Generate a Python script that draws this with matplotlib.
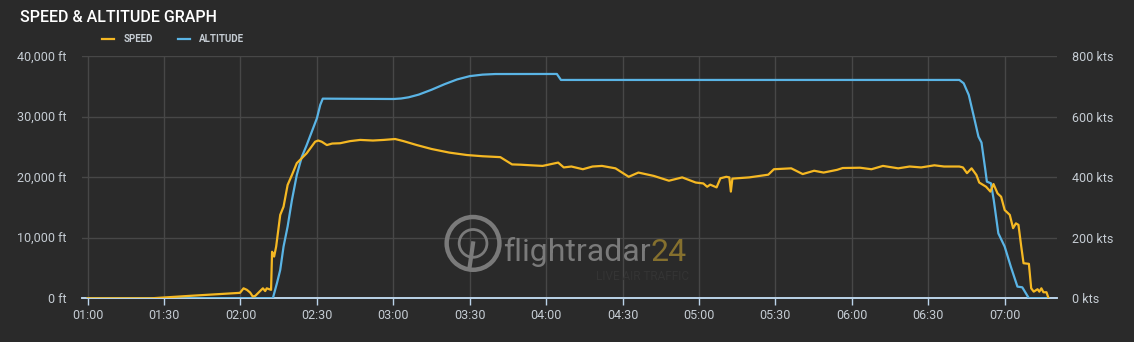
import pandas as pd
import matplotlib
matplotlib.use('Agg')
import matplotlib.pyplot as plt
import matplotlib.dates as mdates

# speed track (kts)
speed_time = ['01:00:00', '01:25:00', '01:40:00', '01:59:48', '02:01:12', '02:02:30', '02:03:48',
              '02:04:48', '02:05:48', '02:07:42', '02:08:48', '02:09:42', '02:10:18', '02:12:00',
              '02:12:24', '02:13:12', '02:14:00', '02:15:36', '02:16:54', '02:18:30', '02:20:12',
              '02:22:06', '02:26:00', '02:29:18', '02:30:30', '02:31:54', '02:33:54', '02:36:00',
              '02:39:06', '02:43:00', '02:47:00', '02:52:00', '02:56:12', '03:00:42', '03:04:00',
              '03:09:12', '03:15:00', '03:22:00', '03:28:54', '03:35:00', '03:42:00', '03:46:36',
              '03:50:00', '03:54:06', '03:58:36', '04:04:42', '04:06:54', '04:09:54', '04:14:24',
              '04:18:12', '04:21:54', '04:27:12', '04:32:24', '04:36:12', '04:42:12', '04:48:12',
              '04:53:24', '04:58:42', '05:01:42', '05:03:12', '05:04:24', '05:06:54', '05:08:24',
              '05:10:42', '05:11:54', '05:12:30', '05:13:06', '05:19:42', '05:27:12', '05:29:24',
              '05:36:12', '05:40:42', '05:45:12', '05:48:54', '05:54:12', '05:56:24', '06:03:12',
              '06:07:42', '06:12:12', '06:18:12', '06:22:42', '06:27:12', '06:32:24', '06:36:12',
              '06:42:12', '06:43:36', '06:45:12', '06:47:00', '06:48:54', '06:50:00', '06:52:42',
              '06:54:24', '06:55:36', '06:57:12', '06:58:36', '07:00:00', '07:02:00', '07:03:18',
              '07:04:24', '07:05:24', '07:06:30', '07:07:24', '07:09:30', '07:10:24', '07:11:24',
              '07:12:54', '07:13:36', '07:14:24', '07:15:12', '07:16:24', '07:17:06']
speed_kts = [0, 0, 8, 18, 33, 28, 19,
             6, 8, 24, 33, 24, 33, 28,
             154, 138, 171, 276, 303, 375, 408,
             447, 480, 518, 522, 518, 507, 512,
             513, 520, 524, 522, 524, 527, 520,
             507, 494, 482, 474, 470, 467, 443,
             442, 440, 438, 449, 433, 436, 427,
             436, 438, 430, 402, 416, 405, 389,
             400, 383, 380, 369, 376, 367, 397,
             402, 400, 353, 396, 400, 409, 427,
             430, 411, 422, 416, 425, 431, 432,
             427, 438, 430, 436, 433, 440, 436,
             436, 433, 414, 430, 408, 383, 369,
             353, 378, 347, 336, 292, 276, 232,
             248, 243, 171, 116, 114, 33, 22,
             30, 22, 33, 20, 20, 3]

# altitude track (ft)
alt_time = ['01:00:00', '02:12:42', '02:14:18', '02:15:36', '02:16:54', '02:18:30', '02:20:12',
            '02:22:06', '02:24:06', '02:26:00', '02:28:00', '02:30:00', '02:31:18', '02:32:18',
            '02:45:00', '03:00:06', '03:03:00', '03:06:00', '03:10:00', '03:15:00', '03:20:00',
            '03:25:00', '03:30:00', '03:35:00', '03:40:00', '04:04:12', '04:05:48', '06:42:12',
            '06:43:54', '06:45:54', '06:48:12', '06:49:42', '06:50:54', '06:52:24', '06:53:00',
            '06:54:36', '06:55:42', '06:57:30', '07:00:00', '07:02:24', '07:05:00', '07:06:54',
            '07:09:30', '07:17:06']
alt_ft = [0, 0, 2480, 4690, 8550, 11860, 16270,
          20400, 23430, 25360, 27570, 29780, 31980, 33030,
          33000, 32970, 33050, 33250, 33700, 34500, 35400,
          36200, 36750, 37000, 37100, 37110, 36120, 36120,
          35570, 33640, 29500, 26740, 25750, 21230, 19300,
          19020, 16270, 10750, 8550, 5240, 1930, 1820,
          0, 0]

alt_ticks = [0, 10000, 20000, 30000, 40000]
alt_labels = ['0 ft', '10,000 ft', '20,000 ft', '30,000 ft', '40,000 ft']
spd_ticks = [0, 200, 400, 600, 800]
spd_labels = ['0 kts', '200 kts', '400 kts', '600 kts', '800 kts']

day = '2020-01-01 '
st = pd.to_datetime([day + t for t in speed_time])
at = pd.to_datetime([day + t for t in alt_time])

bg = '#2a2a2a'
yellow = '#f5b823'
blue = '#5ab4e5'
label_col = '#c5ccd3'
plt.rcParams['font.family'] = ['Roboto', 'DejaVu Sans']

fig = plt.figure(figsize=(11.34, 3.42), dpi=100, facecolor=bg)
ax = fig.add_axes([0.0719, 0.1278, 0.8599, 0.707])
ax.set_facecolor(bg)
ax2 = ax.twinx()

# watermark
ax.scatter([0.4015], [0.227], s=38**2, marker='o', facecolors='none', edgecolors='#7a7a7a',
           linewidths=3.2, transform=ax.transAxes, zorder=1)
ax.scatter([0.4015], [0.227], s=20**2, marker='o', facecolors='none', edgecolors='#7a7a7a',
           linewidths=2, transform=ax.transAxes, zorder=1)
ax.plot([0.4015, 0.398], [0.227, 0.13], color='#7a7a7a', lw=3, transform=ax.transAxes, zorder=1)
t1 = ax.text(0.432, 0.13, 'flightradar', transform=ax.transAxes, fontsize=23, color='#7a7a7a',
             ha='left', va='bottom', zorder=1)
t2 = ax.annotate('24', xy=(1, 0), xycoords=t1, fontsize=23, color='#85702e',
                 ha='left', va='bottom', zorder=1)
ax.text(0.528, 0.09, 'LIVE AIR TRAFFIC', transform=ax.transAxes, fontsize=8.5, color='#343434',
        ha='left', va='center', zorder=1)

l_alt, = ax2.plot(at, [a / 50 for a in alt_ft], color=blue, lw=1.6, label='ALTITUDE', zorder=3)
l_spd, = ax2.plot(st, speed_kts, color=yellow, lw=1.6, label='SPEED', zorder=4)

ax.set_ylim(0, 40000)
ax2.set_ylim(0, 800)
ax.set_xlim(pd.Timestamp(day + '00:57:36'), pd.Timestamp(day + '07:20:24'))

ax.set_yticks(alt_ticks)
ax.set_yticklabels(alt_labels)
ax2.set_yticks(spd_ticks)
ax2.set_yticklabels(spd_labels)

ax.xaxis.set_major_locator(mdates.MinuteLocator(byminute=[0, 30]))
ax.xaxis.set_major_formatter(mdates.DateFormatter('%H:%M'))

ax.grid(True, color='#474747', lw=1)
ax.set_axisbelow(True)
for a in (ax, ax2):
    for s in ('top', 'left', 'right'):
        a.spines[s].set_visible(False)
    a.spines['bottom'].set_color('#bcd4ea')
    a.spines['bottom'].set_linewidth(1.2)
ax.tick_params(axis='x', colors='#bcd4ea', length=5, width=1, pad=3, labelsize=9,
               labelcolor=label_col)
ax.tick_params(axis='y', length=0, pad=11, labelsize=9, labelcolor=label_col)
ax2.tick_params(axis='y', length=0, pad=11, labelsize=9, labelcolor=label_col)

fig.text(0.0176, 0.948, 'SPEED & ALTITUDE GRAPH', fontsize=11.5, color='white',
         fontweight='medium', ha='left', va='center')
fig.legend(handles=[l_spd, l_alt], loc='center left', bbox_to_anchor=(0.082, 0.886), ncol=2,
           frameon=False, handlelength=1.3, handletextpad=0.9, columnspacing=2.6,
           labelcolor=label_col, prop={'weight': 'bold', 'size': 7})

fig.savefig('out.png', dpi=100, facecolor=bg)
